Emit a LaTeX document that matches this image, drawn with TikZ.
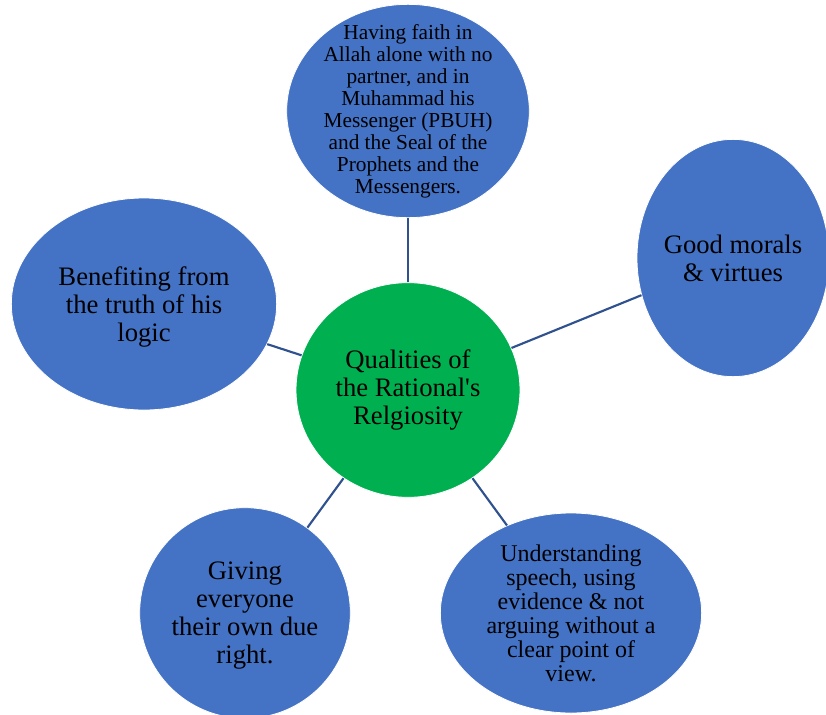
\documentclass[tikz,border=0pt]{standalone}
\usepackage{fontspec}
\setmainfont{Liberation Serif}[Ligatures=TeXOff]
\usetikzlibrary{shapes.geometric}
\definecolor{bubble}{HTML}{4472C4}
\definecolor{hub}{HTML}{00B050}
\definecolor{spoke}{HTML}{2F528F}
\begin{document}
\begin{tikzpicture}[x=0.75pt,y=-0.75pt,
  bub/.style={ellipse,fill=bubble,draw=white,line width=0.6pt,inner sep=0pt},
  txt/.style={align=center,inner sep=0pt,font=\fontsize{20}{21}\selectfont},
  small/.style={txt,font=\fontsize{16}{16.5}\selectfont},
  mid/.style={txt,font=\fontsize{18}{18}\selectfont},
  spk/.style={draw=spoke,line width=1.6pt}]
  \clip (0,0) rectangle (826,715);
  % hub and the five qualities (sizes in pt)
  \node[bub,fill=hub,minimum width=168pt,minimum height=161pt] (Q) at (408,390)
    [label={[txt]center:Qualities of\\the Rational's\\Relgiosity}] {};
  \node[bub,minimum width=182pt,minimum height=160pt] (F) at (408,111)
    [label={[small]center:Having faith in\\Allah alone with no\\partner, and in\\Muhammad his\\Messenger (PBUH)\\and the Seal of the\\Prophets and the\\Messengers.}] {};
  \node[bub,minimum width=144pt,minimum height=178pt] (M) at (733,258)
    [label={[txt]center:Good morals\\\& virtues}] {};
  \node[bub,minimum width=199pt,minimum height=159pt] (B) at (144,304)
    [label={[txt,yshift=-2pt]center:Benefiting from\\the truth of his\\logic}] {};
  \node[bub,minimum width=158pt,minimum height=158pt] (G) at (245,613)
    [label={[txt,yshift=-2pt]center:Giving\\everyone\\their own due\\right.}] {};
  \node[bub,minimum width=196pt,minimum height=150pt] (U) at (571,613)
    [label={[mid]center:Understanding\\speech, using\\evidence \& not\\arguing without a\\clear point of\\view.}] {};
  \draw[spk] (Q) -- (F);
  \draw[spk] (Q) -- (M);
  \draw[spk] (Q) -- (B);
  \draw[spk] (Q) -- (G);
  \draw[spk] (Q) -- (U);
\end{tikzpicture}
\end{document}
